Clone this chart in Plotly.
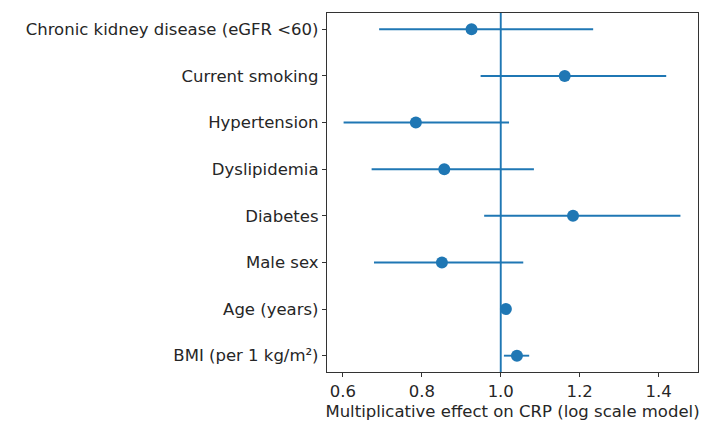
import plotly.graph_objects as go

labels = ["BMI (per 1 kg/m²)", "Age (years)", "Male sex", "Diabetes",
          "Dyslipidemia", "Hypertension", "Current smoking",
          "Chronic kidney disease (eGFR <60)"]
estimate = [1.041, 1.013, 0.851, 1.183, 0.857, 0.785, 1.162, 0.926]
lower = [1.008, 1.007, 0.679, 0.958, 0.673, 0.602, 0.949, 0.692]
upper = [1.072, 1.019, 1.057, 1.455, 1.084, 1.021, 1.419, 1.234]

ypos = list(range(len(labels)))
err_plus = [u - e for u, e in zip(upper, estimate)]
err_minus = [e - l for e, l in zip(estimate, lower)]

blue = "#1f77b4"
fig = go.Figure()
fig.add_trace(go.Scatter(
    x=estimate, y=ypos, mode="markers",
    marker=dict(color=blue, size=12),
    error_x=dict(type="data", symmetric=False, array=err_plus,
                 arrayminus=err_minus, color=blue, thickness=1.9, width=0),
    showlegend=False,
))
fig.add_shape(type="line", x0=1, x1=1, y0=0, y1=1, yref="paper",
              line=dict(color=blue, width=1.9), layer="above")

font = dict(family="DejaVu Sans", size=16.5, color="#262626")
# page body has an 8px margin, so the figure is 8px smaller and margins shifted
fig.update_layout(
    width=701, height=415,
    margin=dict(l=319, r=11, t=5, b=51, autoexpand=False),
    paper_bgcolor="white", plot_bgcolor="white",
    font=font,
    xaxis=dict(range=[0.56, 1.4995], tickvals=[0.6, 0.8, 1.0, 1.2, 1.4],
               ticktext=["0.6", "0.8", "1.0", "1.2", "1.4"], automargin=False,
               showgrid=False, zeroline=False, showline=True, mirror=True,
               linecolor="#333333", linewidth=1.3, ticks="outside",
               ticklen=4, tickcolor="#333333",
               title=dict(text="Multiplicative effect on CRP (log scale model)",
                          standoff=5, font=font)),
    yaxis=dict(range=[-0.35, 7.35], tickvals=ypos, ticktext=labels,
               automargin=False,
               showgrid=False, zeroline=False, showline=True, mirror=True,
               linecolor="#333333", linewidth=1.3, ticks="outside",
               ticklen=4, tickcolor="#333333"),
)
fig.write_html("out.html")
